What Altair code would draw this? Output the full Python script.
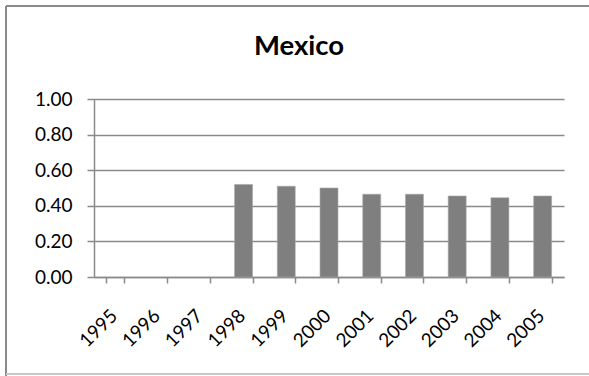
import altair as alt
import pandas as pd

# ---- data ----
years = ["1995", "1996", "1997", "1998", "1999", "2000",
         "2001", "2002", "2003", "2004", "2005"]
values = [None, None, None, 0.52, 0.51, 0.50, 0.465, 0.465, 0.455, 0.445, 0.455]
y_ticks = [0.0, 0.2, 0.4, 0.6, 0.8, 1.0]
title_text = "Mexico"

df = pd.DataFrame({"year": years, "value": values})

FONT = "Lato"
GRAY = "#8a8a8a"

bars = alt.Chart(df).mark_bar(color="#7f7f7f", stroke="#a6a6a6", strokeWidth=0.6).encode(
    x=alt.X("year:N", sort=years,
            scale=alt.Scale(domain=years, paddingInner=0.58, paddingOuter=0.29),
            axis=alt.Axis(title=None, labelAngle=-45, tickBand="extent", tickSize=6,
                          labelAlign="right", labelBaseline="top",
                          labelPadding=23, labelOffset=-8, grid=False)),
    y=alt.Y("value:Q",
            scale=alt.Scale(domain=[0, 1], nice=False, zero=True),
            axis=alt.Axis(title=None, values=y_ticks, format=".2f", tickSize=7,
                          labelPadding=15, grid=True)),
)

one = alt.Data(values=[{"k": 1}])

# chart title as a text mark, centred over the whole chart frame
title_mark = alt.Chart(one).mark_text(
    text=title_text, font=FONT, fontSize=27.5, fontWeight="bold", color="#000000",
    align="center", baseline="alphabetic"
).encode(x=alt.value(205), y=alt.value(-44))

# decorative outer frame (left edge, top edge, bottom edge) in pixel space
left_edge = alt.Chart(one).mark_rule(color=GRAY, strokeWidth=2).encode(
    x=alt.value(-88), y=alt.value(-93), y2=alt.value(277))
top_edge = alt.Chart(one).mark_rule(color=GRAY, strokeWidth=2).encode(
    x=alt.value(-88), x2=alt.value(500), y=alt.value(-93))
bottom_edge = alt.Chart(one).mark_rule(color="#c8c8c8", strokeWidth=2).encode(
    x=alt.value(-88), x2=alt.value(500), y=alt.value(275))

chart = alt.layer(bars, title_mark, left_edge, top_edge, bottom_edge).properties(
    width=470,
    height=178,
    autosize=alt.AutoSizeParams(type="none"),
    padding={"left": 94, "top": 99, "right": 25, "bottom": 99},
    background="#ffffff",
).configure_view(stroke=None).configure_axis(
    labelFont=FONT, labelFontSize=19, labelColor="#000000",
    domainColor=GRAY, domainWidth=1.5, tickColor=GRAY, tickWidth=1.5,
    gridColor=GRAY, gridWidth=1.3,
)

chart.save("out.html", embed_options={"renderer": "svg", "actions": False})
